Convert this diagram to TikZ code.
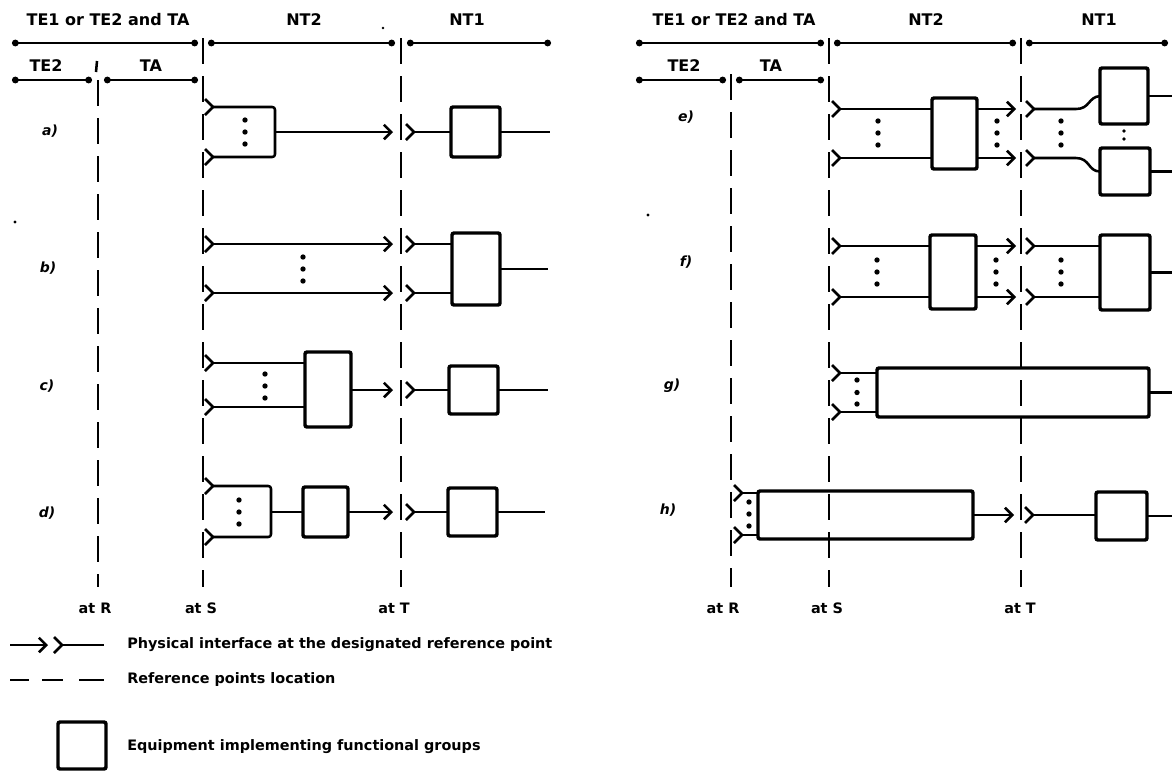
\documentclass[tikz,border=0pt]{standalone}
\usepackage{fontspec}
\setmainfont{DejaVu Sans}
\usetikzlibrary{arrows.meta}
\newcommand{\chv}[3]{\coordinate (#1) at (#2,#3); \draw[sig] ([shift={(-8,-8)}]#1) -- (#1) -- ([shift={(-8,8)}]#1);}
\newcommand{\eqb}[5]{\node[eqbox, minimum width={(#4-#2)*0.75pt}, minimum height={(#5-#3)*0.75pt}] (#1) at ({(#2+#4)/2},{(#3+#5)/2}) {};}
\newcommand{\tdots}[2]{\foreach \dy in {-12,0,12} {\fill (#1,#2+\dy) circle (2pt);}}
\begin{document}
\begin{tikzpicture}[x=0.75pt,y=-0.75pt,
  sig/.style={line width=1.9pt, line join=round},
  eqbox/.style={draw, line width=2.6pt, rounded corners=1.5pt, inner sep=0pt, outer sep=0pt},
  refline/.style={line width=1.9pt, dash pattern=on 19.5pt off 9pt},
  dim/.style={line width=1.9pt, {Circle[length=5pt]}-{Circle[length=5pt]}},
  tip/.style={-{Straight Barb[length=5.5pt,width=11pt,line width=1.9pt]}},
  hdr/.style={font=\bfseries\fontsize{12}{14}\selectfont, inner sep=0pt},
  bot/.style={font=\bfseries\fontsize{10.8}{13}\selectfont, inner sep=0pt},
  lbl/.style={font=\bfseries\itshape\fontsize{10.5}{12}\selectfont, inner sep=0pt},
  leg/.style={font=\bfseries\fontsize{10.8}{13}\selectfont, inner sep=0pt, anchor=west},
]
\useasboundingbox (0,0) rectangle (1172,772);

% ---------------- LEFT PANEL ----------------
\node[hdr] (hl1) at (108,20) {TE1 or TE2 and TA};
\node[hdr] (hl2) at (304,20) {NT2};
\node[hdr] (hl3) at (467,20) {NT1};
\node[hdr] (hl4) at (46,66) {TE2};
\node[hdr] (hl5) at (151,66) {TA};

\coordinate (lA1) at (12,43);  \coordinate (lA2) at (198,43);
\coordinate (lA3) at (208,43); \coordinate (lA4) at (395,43);
\coordinate (lA5) at (407,43); \coordinate (lA6) at (551,43);
\draw[dim] (lA1) -- (lA2);
\draw[dim] (lA3) -- (lA4);
\draw[dim] (lA5) -- (lA6);
\coordinate (lB1) at (12,80);  \coordinate (lB2) at (92,80);
\coordinate (lB3) at (104,80); \coordinate (lB4) at (198,80);
\draw[dim] (lB1) -- (lB2);
\draw[dim] (lB3) -- (lB4);

% reference lines
\coordinate (lRt) at (98,80);  \coordinate (lRb) at (98,587);
\coordinate (lSt) at (203,38); \coordinate (lSb) at (203,587);
\coordinate (lTt) at (401,38); \coordinate (lTb) at (401,587);
\draw[sig] (97,61) -- (96,72);
\draw[refline] (lRt) -- (lRb);
\draw[refline] (lSt) -- (lSb);
\draw[refline] (lTt) -- (lTb);

\node[bot] (lR) at (95,608) {at R};
\node[bot] (lS) at (201,608) {at S};
\node[bot] (lT) at (394,608) {at T};

% row labels
\node[lbl] (la) at (50,131) {a)};
\node[lbl] (lb) at (48,268) {b)};
\node[lbl] (lc) at (47,386) {c)};
\node[lbl] (ld) at (47,513) {d)};

% row a
\chv{a1}{213}{107} \chv{a2}{213}{157}
\coordinate (abr) at (275,132);
\draw[sig, rounded corners=2pt] (a1) -| (abr) |- (a2);
\tdots{245}{132}
\coordinate (at) at (393,132);
\draw[sig,tip] (abr) -- (at);
\chv{a3}{414}{132}
\eqb{a4}{451}{107}{500}{157}
\draw[sig] (a3) -- (a3 -| a4.west);
\coordinate (ao) at (550,132);
\draw[sig] (a4.east) -- (ao);

% row b
\chv{b1}{213}{244} \chv{b2}{213}{293}
\coordinate (bt1) at (393,244); \coordinate (bt2) at (393,293);
\draw[sig,tip] (b1) -- (bt1);
\draw[sig,tip] (b2) -- (bt2);
\tdots{303}{269}
\chv{b3}{414}{244} \chv{b4}{414}{293}
\eqb{b5}{452}{233}{500}{305}
\draw[sig] (b3) -- (b3 -| b5.west);
\draw[sig] (b4) -- (b4 -| b5.west);
\coordinate (bo) at (548,269);
\draw[sig] (b5.east) -- (bo);

% row c
\chv{c1}{213}{363} \chv{c2}{213}{407}
\eqb{c3}{305}{352}{351}{427}
\draw[sig] (c1) -- (c1 -| c3.west);
\draw[sig] (c2) -- (c2 -| c3.west);
\tdots{265}{386}
\coordinate (ct) at (393,390);
\draw[sig,tip] (c3.east |- ct) -- (ct);
\chv{c4}{414}{390}
\eqb{c5}{449}{366}{498}{414}
\draw[sig] (c4) -- (c4 -| c5.west);
\coordinate (co) at (548,390);
\draw[sig] (c5.east) -- (co);

% row d
\chv{d1}{213}{486} \chv{d2}{213}{537}
\coordinate (dbr) at (271,512);
\draw[sig, rounded corners=2pt] (d1) -| (dbr) |- (d2);
\tdots{239}{512}
\eqb{d3}{303}{487}{348}{537}
\draw[sig] (dbr) -- (dbr -| d3.west);
\coordinate (dt) at (393,512);
\draw[sig,tip] (d3.east |- dt) -- (dt);
\chv{d4}{414}{512}
\eqb{d5}{448}{488}{497}{536}
\draw[sig] (d4) -- (d4 -| d5.west);
\coordinate (do) at (545,512);
\draw[sig] (d5.east) -- (do);

% legend
\coordinate (L1a) at (10,645); \coordinate (L1t) at (48,645);
\draw[sig,tip] (L1a) -- (L1t);
\chv{L1c}{62}{645}
\coordinate (L1e) at (104,645);
\draw[sig] (L1c) -- (L1e);
\node[leg] (L1) at (127,645) {Physical interface at the designated reference point};
\draw[sig] (10,680) -- (29,680);
\draw[sig] (42,680) -- (63,680);
\draw[sig] (79,680) -- (104,680);
\node[leg] (L2) at (127,680) {Reference points location};
\eqb{Lb}{58}{722}{106}{769}
\node[leg] (L3) at (127,747) {Equipment implementing functional groups};

% stray dots
\fill (15,222) circle (1.3pt);
\fill (383,28) circle (1pt);
\fill (648,215) circle (1.3pt);

% ---------------- RIGHT PANEL ----------------
\node[hdr] (hr1) at (734,20) {TE1 or TE2 and TA};
\node[hdr] (hr2) at (926,20) {NT2};
\node[hdr] (hr3) at (1099,20) {NT1};
\node[hdr] (hr4) at (684,66) {TE2};
\node[hdr] (hr5) at (771,66) {TA};

\coordinate (rA1) at (636,43);  \coordinate (rA2) at (824,43);
\coordinate (rA3) at (834,43);  \coordinate (rA4) at (1016,43);
\coordinate (rA5) at (1026,43); \coordinate (rA6) at (1168,43);
\draw[dim] (rA1) -- (rA2);
\draw[dim] (rA3) -- (rA4);
\draw[dim] (rA5) -- (rA6);
\coordinate (rB1) at (636,80);  \coordinate (rB2) at (726,80);
\coordinate (rB3) at (736,80);  \coordinate (rB4) at (824,80);
\draw[dim] (rB1) -- (rB2);
\draw[dim] (rB3) -- (rB4);

\coordinate (rRt) at (731,74);  \coordinate (rRb) at (731,587);
\coordinate (rSt) at (829,38);  \coordinate (rSb) at (829,587);
\coordinate (rTt) at (1021,38); \coordinate (rTb) at (1021,587);
\draw[refline] (rRt) -- (rRb);
\draw[refline] (rSt) -- (rSb);

\node[bot] (rR) at (723,608) {at R};
\node[bot] (rS) at (827,608) {at S};
\node[bot] (rT) at (1020,608) {at T};

\node[lbl] (le) at (686,117) {e)};
\node[lbl] (lf) at (686,262) {f)};
\node[lbl] (lg) at (672,386) {g)};
\node[lbl] (lh) at (668,510) {h)};

% row e
\chv{e1}{840}{109} \chv{e2}{840}{158}
\eqb{e3}{932}{98}{977}{169}
\draw[sig] (e1) -- (e1 -| e3.west);
\draw[sig] (e2) -- (e2 -| e3.west);
\tdots{878}{133}
\coordinate (et1) at (1016,109); \coordinate (et2) at (1016,158);
\draw[sig,tip] (e3.east |- et1) -- (et1);
\draw[sig,tip] (e3.east |- et2) -- (et2);
\tdots{997}{133}
\chv{e4}{1034}{109} \chv{e5}{1034}{158}
\tdots{1061}{133}
\eqb{e6}{1100}{68}{1148}{124}
\eqb{e7}{1100}{148}{1150}{195}
\draw[sig] (e4) -- (1076,109) .. controls (1090,109) and (1088,97) .. (e6.west);
\draw[sig] (e5) -- (1076,158) .. controls (1090,158) and (1088,171.5) .. (e7.west);
\fill (1124,131) circle (1.4pt);
\fill (1124,139) circle (1.4pt);
\coordinate (eo1) at (1172,96); \coordinate (eo2) at (1172,171.5);
\draw[sig] (e6.east) -- (eo1);
\draw[sig] (e7.east) -- (eo2);

% row f
\chv{f1}{840}{246} \chv{f2}{840}{297}
\eqb{f3}{930}{235}{976}{309}
\draw[sig] (f1) -- (f1 -| f3.west);
\draw[sig] (f2) -- (f2 -| f3.west);
\tdots{877}{272}
\coordinate (ft1) at (1016,246); \coordinate (ft2) at (1016,297);
\draw[sig,tip] (f3.east |- ft1) -- (ft1);
\draw[sig,tip] (f3.east |- ft2) -- (ft2);
\tdots{996}{272}
\chv{f4}{1034}{246} \chv{f5}{1034}{297}
\tdots{1061}{272}
\eqb{f6}{1100}{235}{1150}{310}
\draw[sig] (f4) -- (f4 -| f6.west);
\draw[sig] (f5) -- (f5 -| f6.west);
\coordinate (fo) at (1172,272.5);
\draw[sig] (f6.east) -- (fo);

% row g
\chv{g1}{840}{373} \chv{g2}{840}{412}
\eqb{g3}{877}{368}{1149}{417}
\draw[sig] (g1) -- (g1 -| g3.west);
\draw[sig] (g2) -- (g2 -| g3.west);
\foreach \yy in {380,392.5,404} {\fill (857,\yy) circle (2pt);}
\coordinate (go) at (1172,392.5);
\draw[sig] (g3.east) -- (go);
\draw[refline] (rTt) -- (rTb);

% row h
\chv{h1}{742}{493} \chv{h2}{742}{535}
\eqb{h3}{758}{491}{973}{539}
\draw[sig] (h1) -- (h1 -| h3.west);
\draw[sig] (h2) -- (h2 -| h3.west);
\draw[refline] (rSt) -- (rSb);
\tdots{749}{514}
\coordinate (ht) at (1014,515);
\draw[sig,tip] (h3.east |- ht) -- (ht);
\chv{h4}{1033}{515}
\eqb{h5}{1096}{492}{1147}{540}
\draw[sig] (h4) -- (h4 -| h5.west);
\coordinate (ho) at (1172,516);
\draw[sig] (h5.east) -- (ho);
\end{tikzpicture}
\end{document}
